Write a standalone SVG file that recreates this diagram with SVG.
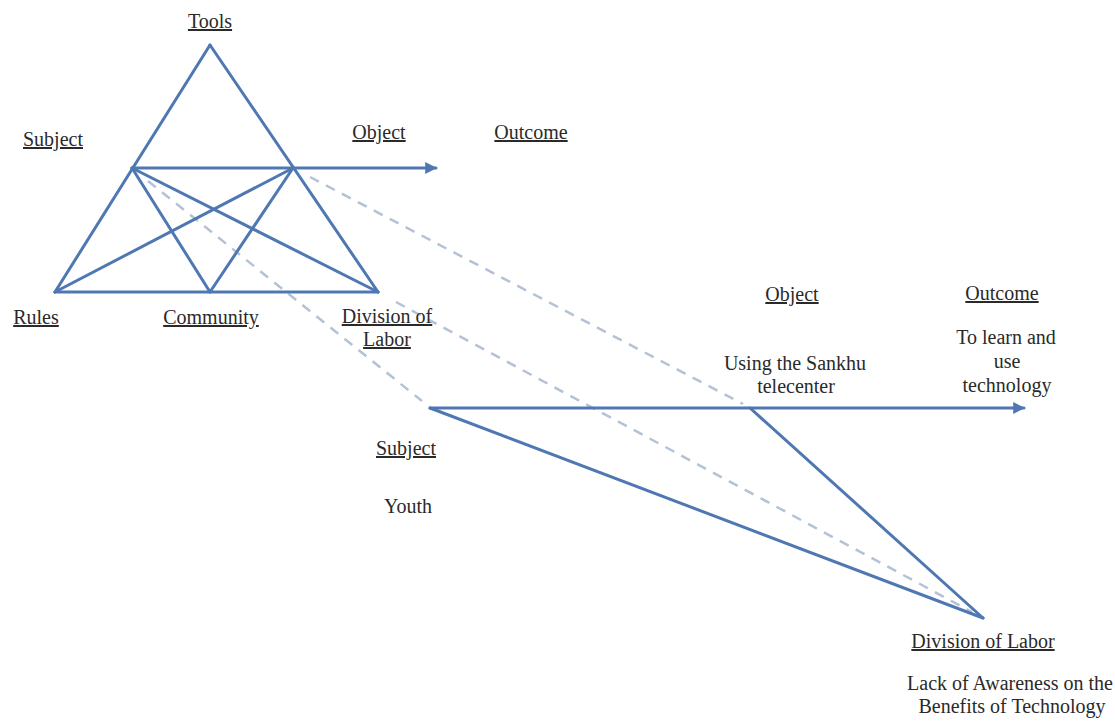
<svg xmlns="http://www.w3.org/2000/svg" width="1115" height="721" viewBox="0 0 1115 721">
<style>
.ln{stroke:#4f78b3;stroke-width:3;fill:none;stroke-linecap:round}
.dash{stroke:#b4c2d6;stroke-width:2.5;fill:none;stroke-dasharray:10 8}
.t{font-family:"Liberation Serif","Times New Roman",serif;font-size:20px;fill:#2a2a2a;text-anchor:middle}
.u{text-decoration:underline}
</style>
<defs>
<marker id="ah" viewBox="0 0 10 10" refX="9" refY="5" markerWidth="4" markerHeight="4" orient="auto" markerUnits="strokeWidth">
<path d="M0,0 L10,5 L0,10 Z" fill="#4f78b3"/>
</marker>
</defs>
<rect width="1115" height="721" fill="#ffffff"/>
<g id="connectors">
<line class="dash" x1="148" y1="181" x2="422" y2="401"/>
<line class="dash" x1="310" y1="177" x2="743" y2="404"/>
<line class="dash" x1="396" y1="302" x2="972" y2="612"/>
<line class="ln" x1="55" y1="292" x2="210" y2="45"/>
<line class="ln" x1="210" y1="45" x2="378" y2="292"/>
<line class="ln" x1="55" y1="292" x2="378" y2="292"/>
<line class="ln" x1="132" y1="168" x2="210" y2="292"/>
<line class="ln" x1="132" y1="168" x2="378" y2="292"/>
<line class="ln" x1="55" y1="292" x2="293" y2="168"/>
<line class="ln" x1="210" y1="292" x2="293" y2="168"/>
<line class="ln" x1="132" y1="168" x2="436" y2="168" marker-end="url(#ah)"/>
<line class="ln" x1="430" y1="408" x2="1024" y2="408" marker-end="url(#ah)"/>
<line class="ln" x1="430" y1="408" x2="983" y2="618"/>
<line class="ln" x1="750" y1="408" x2="983" y2="618"/>
</g>
<g id="tools"><text class="t u" x="210" y="28">Tools</text></g>
<g id="subject1"><text class="t u" x="53" y="146">Subject</text></g>
<g id="object1"><text class="t u" x="379" y="139">Object</text></g>
<g id="outcome1"><text class="t u" x="531" y="139">Outcome</text></g>
<g id="rules"><text class="t u" x="36" y="324">Rules</text></g>
<g id="community"><text class="t u" x="211" y="324">Community</text></g>
<g id="division1"><text class="t u" x="387" y="323">Division of</text><text class="t u" x="387" y="346">Labor</text></g>
<g id="object2"><text class="t u" x="792" y="301">Object</text><text class="t" x="795" y="370">Using the Sankhu</text><text class="t" x="796" y="393">telecenter</text></g>
<g id="outcome2"><text class="t u" x="1002" y="300">Outcome</text><text class="t" x="1006" y="344">To learn and</text><text class="t" x="1007" y="368">use</text><text class="t" x="1007" y="392">technology</text></g>
<g id="subject2"><text class="t u" x="406" y="455">Subject</text><text class="t" x="408" y="513">Youth</text></g>
<g id="division2"><text class="t u" x="983" y="648">Division of Labor</text><text class="t" x="1010" y="690">Lack of Awareness on the</text><text class="t" x="1012" y="713">Benefits of Technology</text></g>
</svg>
